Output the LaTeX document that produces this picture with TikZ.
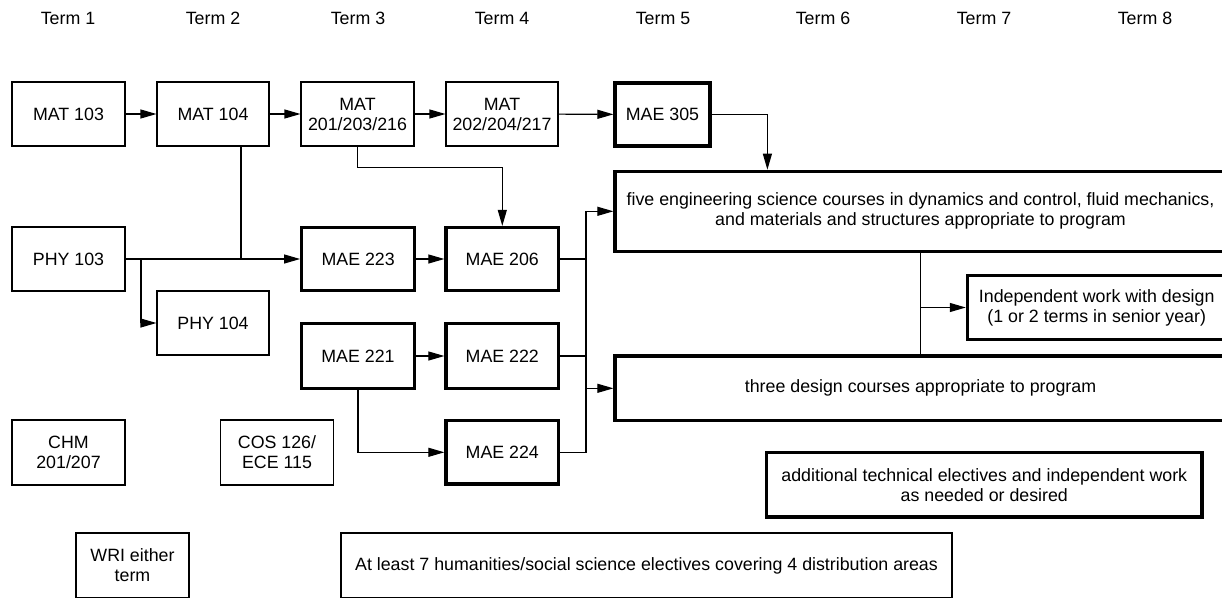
\documentclass[tikz,border=0pt]{standalone}
\usepackage{fontspec}
\setmainfont{Liberation Sans}
\usetikzlibrary{arrows.meta,calc}
\begin{document}
\begin{tikzpicture}[x=1pt,y=-1pt,
  every node/.style={font=\fontsize{17.8}{20}\selectfont, align=center, inner sep=2pt},
  box/.style={draw, line width=1.1pt, rectangle},
  tbox/.style={draw, line width=3.2pt, rectangle},
  conn/.style={line width=1.1pt},
  arr/.style={line width=1.1pt, -{Triangle[length=16pt,width=9pt]}},
  termlbl/.style={}]
\useasboundingbox (0,0) rectangle (1222,597);
% term labels
\node[termlbl] (t1) at (68,18) {Term 1};
\node[termlbl] (t2) at (213,18) {Term 2};
\node[termlbl] (t3) at (358,18) {Term 3};
\node[termlbl] (t4) at (502,18) {Term 4};
\node[termlbl] (t5) at (663,18) {Term 5};
\node[termlbl] (t6) at (823,18) {Term 6};
\node[termlbl] (t7) at (984,18) {Term 7};
\node[termlbl] (t8) at (1145,18) {Term 8};
% boxes
\node[box, minimum width=113, minimum height=64] (mat103) at (68.5,114) {MAT 103};
\node[box, minimum width=112, minimum height=64] (mat104) at (213,114) {MAT 104};
\node[box, minimum width=113, minimum height=64] (mat201) at (357.5,114) {MAT\\201/203/216};
\node[box, minimum width=112, minimum height=64] (mat202) at (502,114) {MAT\\202/204/217};
\node[tbox, minimum width=95, minimum height=63] (mae305) at (662.5,114.5) {MAE 305};
\node[box, minimum width=113, minimum height=64] (phy103) at (68.5,259) {PHY 103};
\node[box, minimum width=112, minimum height=64] (phy104) at (213,323) {PHY 104};
\node[tbox, minimum width=113, minimum height=63] (mae223) at (358.2,259) {MAE 223};
\node[tbox, minimum width=112.7, minimum height=63] (mae206) at (502.3,259) {MAE 206};
\node[tbox, minimum width=113.4, minimum height=65.4] (mae221) at (358,356) {MAE 221};
\node[tbox, minimum width=112.7, minimum height=65.4] (mae222) at (502.3,356) {MAE 222};
\node[tbox, minimum width=112.7, minimum height=63.3] (mae224) at (502.3,452.3) {MAE 224};
\node[box, minimum width=113, minimum height=65] (chm) at (68.5,452.5) {CHM\\201/207};
\node[box, minimum width=113, minimum height=65] (cos) at (277,452.5) {COS 126/\\ECE 115};
\node[box, minimum width=113, minimum height=65] (wri) at (132.5,565.5) {WRI either\\term};
\node[box, minimum width=611, minimum height=65] (hum) at (646.5,565.5) {At least 7 humanities/social science electives covering 4 distribution areas};
\node[tbox, minimum width=611, minimum height=80] (five) at (920.5,211.3) {five engineering science courses in dynamics and control, fluid mechanics,\\and materials and structures appropriate to program};
\node[tbox, minimum width=258.6, minimum height=63.6] (indep) at (1096.7,307.5) {Independent work with design\\(1 or 2 terms in senior year)};
\node[tbox, minimum width=611, minimum height=64.7] (three) at (920.5,388.3) {three design courses appropriate to program};
\node[tbox, minimum width=435.3, minimum height=64.7] (addl) at (984.3,484.7) {additional technical electives and independent work\\as needed or desired};
% connectors
\draw[arr] (mat103) -- (mat104);
\draw[arr] (mat104) -- (mat201);
\draw[arr] (mat201) -- (mat202);
\draw[arr] (mat202) -- (mae305);
\coordinate (c305) at (767.4,114.5);
\draw[arr] (mae305.east) -- (c305) -- (c305 |- five.north);
\draw[arr] (phy103.east) -- (mae223.west);
\draw[conn] ([xshift=28]mat104.south) -- ([xshift=28]mat104.south |- mae223.west);
\coordinate (cphy) at (141,259);
\draw[arr] (cphy) |- (phy104.west);
\coordinate (c201) at (357.5,167.7);
\draw[arr] (mat201.south) -- (c201) -| (mae206.north);
\draw[arr] (mae223) -- (mae206);
\draw[arr] (mae221) -- (mae222);
\draw[arr] (mae221.south) |- (mae224.west);
\coordinate (jtop) at (586,211.3);
\draw[conn] (mae224.east) -| (jtop);
\draw[arr] (jtop) -- (five.west);
\draw[conn] (mae206.east) -- (mae206.east -| jtop);
\draw[conn] (mae222.east) -- (mae222.east -| jtop);
\draw[arr] (three.west -| jtop) -- (three.west);
\draw[conn] (five.south) -- (three.north);
\draw[arr] (indep.west -| five.south) -- (indep.west);
\end{tikzpicture}
\end{document}
